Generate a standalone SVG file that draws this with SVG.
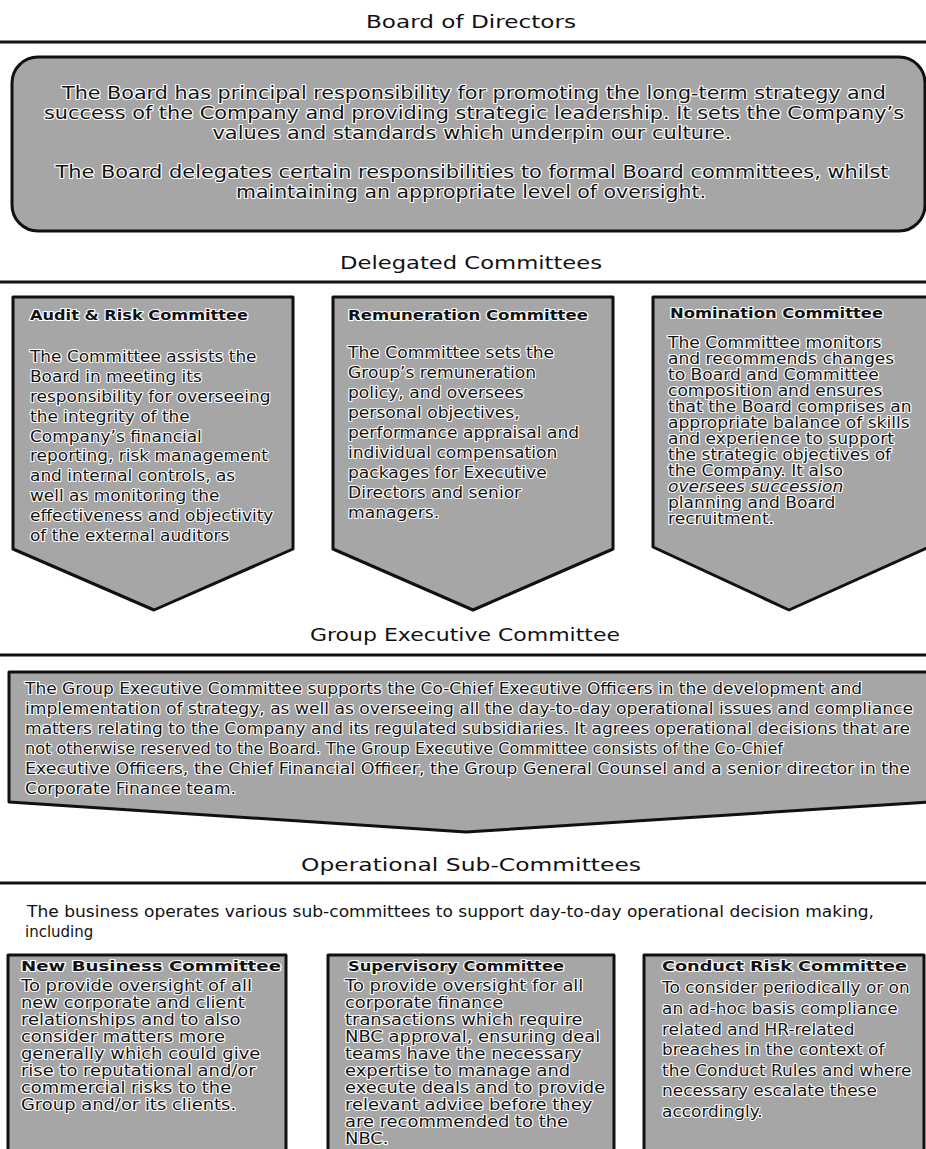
<svg xmlns="http://www.w3.org/2000/svg" width="926" height="1149" viewBox="0 0 926 1149">
<style>
  .bg { fill: #ffffff; }
  .rule { stroke: #111; stroke-width: 3; fill: none; }
  .hd { font-family: "DejaVu Sans", "Liberation Sans", sans-serif; font-size: 17px; fill: #111; text-anchor: middle; }
  .box { fill: #a6a6a6; stroke: #111; stroke-width: 3; stroke-linejoin: round; }
  .t { font-family: "DejaVu Sans", "Liberation Sans", sans-serif; fill: #111; stroke: #fff; stroke-width: 2.2; paint-order: stroke; stroke-linejoin: round; }
  .b18 { font-size: 18px; text-anchor: middle; }
  .ttl { font-weight: bold; font-size: 14px; }
  .ttl2 { font-weight: bold; font-size: 13.5px; }
  .f16 { font-size: 16px; }
  .f15 { font-size: 15px; }
  .plain { font-family: "DejaVu Sans", "Liberation Sans", sans-serif; font-size: 15px; fill: #111; }
  .it { font-style: italic; }
</style>
<rect class="bg" x="0" y="0" width="926" height="1149"/>

<g id="header-board">
  <text class="hd" x="471" y="28" textLength="210" lengthAdjust="spacingAndGlyphs">Board of Directors</text>
  <line class="rule" x1="0" y1="42" x2="926" y2="42"/>
</g>

<g id="node-board">
  <rect class="box" x="12" y="57" width="913" height="174" rx="26" ry="26"/>
  <text class="t b18" x="474" y="99" textLength="824" lengthAdjust="spacingAndGlyphs">The Board has principal responsibility for promoting the long-term strategy and</text>
  <text class="t b18" x="474" y="119" textLength="860" lengthAdjust="spacingAndGlyphs">success of the Company and providing strategic leadership. It sets the Company’s</text>
  <text class="t b18" x="472" y="139" textLength="519" lengthAdjust="spacingAndGlyphs">values and standards which underpin our culture.</text>
  <text class="t b18" x="472" y="178" textLength="833" lengthAdjust="spacingAndGlyphs">The Board delegates certain responsibilities to formal Board committees, whilst</text>
  <text class="t b18" x="471" y="198" textLength="470" lengthAdjust="spacingAndGlyphs">maintaining an appropriate level of oversight.</text>
</g>

<g id="header-delegated">
  <text class="hd" x="471" y="269" textLength="262" lengthAdjust="spacingAndGlyphs">Delegated Committees</text>
  <line class="rule" x1="0" y1="282" x2="926" y2="282"/>
</g>

<g id="node-audit">
  <polygon class="box" points="13,297 293,297 293,549 154,610 13,549"/>
  <text class="t ttl" x="30" y="320" textLength="218" lengthAdjust="spacingAndGlyphs">Audit &amp; Risk Committee</text>
  <g transform="translate(30,0) scale(1.06,1)">
    <text class="t f16" x="0" y="362.5">The Committee assists the</text>
    <text class="t f16" x="0" y="382.3">Board in meeting its</text>
    <text class="t f16" x="0" y="402.1">responsibility for overseeing</text>
    <text class="t f16" x="0" y="421.9">the integrity of the</text>
    <text class="t f16" x="0" y="441.7">Company’s financial</text>
    <text class="t f16" x="0" y="461.5">reporting, risk management</text>
    <text class="t f16" x="0" y="481.3">and internal controls, as</text>
    <text class="t f16" x="0" y="501.1">well as monitoring the</text>
    <text class="t f16" x="0" y="520.9">effectiveness and objectivity</text>
    <text class="t f16" x="0" y="540.7">of the external auditors</text>
  </g>
</g>

<g id="node-remuneration">
  <polygon class="box" points="333,297 613,297 613,549 473,610 333,549"/>
  <text class="t ttl" x="348" y="320" textLength="240" lengthAdjust="spacingAndGlyphs">Remuneration Committee</text>
  <g transform="translate(348,0) scale(1.07,1)">
    <text class="t f16" x="0" y="358.5">The Committee sets the</text>
    <text class="t f16" x="0" y="378.5">Group’s remuneration</text>
    <text class="t f16" x="0" y="398.5">policy, and oversees</text>
    <text class="t f16" x="0" y="418.5">personal objectives,</text>
    <text class="t f16" x="0" y="438.5">performance appraisal and</text>
    <text class="t f16" x="0" y="458.5">individual compensation</text>
    <text class="t f16" x="0" y="478.5">packages for Executive</text>
    <text class="t f16" x="0" y="498.5">Directors and senior</text>
    <text class="t f16" x="0" y="518.5">managers.</text>
  </g>
</g>

<g id="node-nomination">
  <polygon class="box" points="653,297 929,297 929,547 789,610 653,547"/>
  <text class="t ttl" x="670" y="318" textLength="213" lengthAdjust="spacingAndGlyphs">Nomination Committee</text>
  <g transform="translate(668,0) scale(1.14,1)">
    <text class="t f15" x="0" y="348.5">The Committee monitors</text>
    <text class="t f15" x="0" y="364.5">and recommends changes</text>
    <text class="t f15" x="0" y="380.5">to Board and Committee</text>
    <text class="t f15" x="0" y="396.5">composition and ensures</text>
    <text class="t f15" x="0" y="412.5">that the Board comprises an</text>
    <text class="t f15" x="0" y="428.5">appropriate balance of skills</text>
    <text class="t f15" x="0" y="444.5">and experience to support</text>
    <text class="t f15" x="0" y="460.5">the strategic objectives of</text>
    <text class="t f15" x="0" y="476.5">the Company. It also</text>
    <text class="t f15 it" x="0" y="492.5">oversees succession</text>
    <text class="t f15" x="0" y="508.5">planning and Board</text>
    <text class="t f15" x="0" y="524.5">recruitment.</text>
  </g>
</g>

<g id="header-exec">
  <text class="hd" x="465" y="641" textLength="310" lengthAdjust="spacingAndGlyphs">Group Executive Committee</text>
  <line class="rule" x1="0" y1="655" x2="926" y2="655"/>
</g>

<g id="node-exec">
  <polygon class="box" points="9,672 929,672 929,802 466,832 9,802"/>
  <text class="t f16" x="25" y="694" textLength="837" lengthAdjust="spacingAndGlyphs">The Group Executive Committee supports the Co-Chief Executive Officers in the development and</text>
  <text class="t f16" x="25" y="714" textLength="888" lengthAdjust="spacingAndGlyphs">implementation of strategy, as well as overseeing all the day-to-day operational issues and compliance</text>
  <text class="t f16" x="25" y="734" textLength="885" lengthAdjust="spacingAndGlyphs">matters relating to the Company and its regulated subsidiaries. It agrees operational decisions that are</text>
  <text class="t f16" x="25" y="754" textLength="758" lengthAdjust="spacingAndGlyphs">not otherwise reserved to the Board. The Group Executive Committee consists of the Co-Chief</text>
  <text class="t f16" x="25" y="774" textLength="885" lengthAdjust="spacingAndGlyphs">Executive Officers, the Chief Financial Officer, the Group General Counsel and a senior director in the</text>
  <text class="t f16" x="25" y="794" textLength="211" lengthAdjust="spacingAndGlyphs">Corporate Finance team.</text>
</g>

<g id="header-operational">
  <text class="hd" x="471" y="871" textLength="340" lengthAdjust="spacingAndGlyphs">Operational Sub-Committees</text>
  <line class="rule" x1="0" y1="883" x2="926" y2="883"/>
</g>

<g id="text-intro">
  <text class="plain" x="27" y="917" textLength="847" lengthAdjust="spacingAndGlyphs">The business operates various sub-committees to support day-to-day operational decision making,</text>
  <text class="plain" x="25" y="937">including</text>
</g>

<g id="node-newbusiness">
  <rect class="box" x="8" y="955" width="278" height="210"/>
  <text class="t ttl2" x="21" y="971" textLength="260" lengthAdjust="spacingAndGlyphs">New Business Committee</text>
  <g transform="translate(21,0) scale(1.12,1)">
    <text class="t f16" x="0" y="991">To provide oversight of all</text>
    <text class="t f16" x="0" y="1008">new corporate and client</text>
    <text class="t f16" x="0" y="1025">relationships and to also</text>
    <text class="t f16" x="0" y="1042">consider matters more</text>
    <text class="t f16" x="0" y="1059">generally which could give</text>
    <text class="t f16" x="0" y="1076">rise to reputational and/or</text>
    <text class="t f16" x="0" y="1093">commercial risks to the</text>
    <text class="t f16" x="0" y="1110">Group and/or its clients.</text>
  </g>
</g>

<g id="node-supervisory">
  <rect class="box" x="328" y="955" width="286" height="210"/>
  <text class="t ttl2" x="348" y="971" textLength="216" lengthAdjust="spacingAndGlyphs">Supervisory Committee</text>
  <g transform="translate(345,0) scale(1.12,1)">
    <text class="t f16" x="0" y="991">To provide oversight for all</text>
    <text class="t f16" x="0" y="1008">corporate finance</text>
    <text class="t f16" x="0" y="1025">transactions which require</text>
    <text class="t f16" x="0" y="1042">NBC approval, ensuring deal</text>
    <text class="t f16" x="0" y="1059">teams have the necessary</text>
    <text class="t f16" x="0" y="1076">expertise to manage and</text>
    <text class="t f16" x="0" y="1093">execute deals and to provide</text>
    <text class="t f16" x="0" y="1110">relevant advice before they</text>
    <text class="t f16" x="0" y="1127">are recommended to the</text>
    <text class="t f16" x="0" y="1144">NBC.</text>
  </g>
</g>

<g id="node-conductrisk">
  <rect class="box" x="644" y="955" width="280" height="210"/>
  <text class="t ttl2" x="662" y="971" textLength="245" lengthAdjust="spacingAndGlyphs">Conduct Risk Committee</text>
  <g transform="translate(662,0) scale(1.06,1)">
    <text class="t f16" x="0" y="993.5">To consider periodically or on</text>
    <text class="t f16" x="0" y="1014.1">an ad-hoc basis compliance</text>
    <text class="t f16" x="0" y="1034.7">related and HR-related</text>
    <text class="t f16" x="0" y="1055.3">breaches in the context of</text>
    <text class="t f16" x="0" y="1075.9">the Conduct Rules and where</text>
    <text class="t f16" x="0" y="1096.5">necessary escalate these</text>
    <text class="t f16" x="0" y="1117.1">accordingly.</text>
  </g>
</g>

<g id="connectors"></g>
</svg>
